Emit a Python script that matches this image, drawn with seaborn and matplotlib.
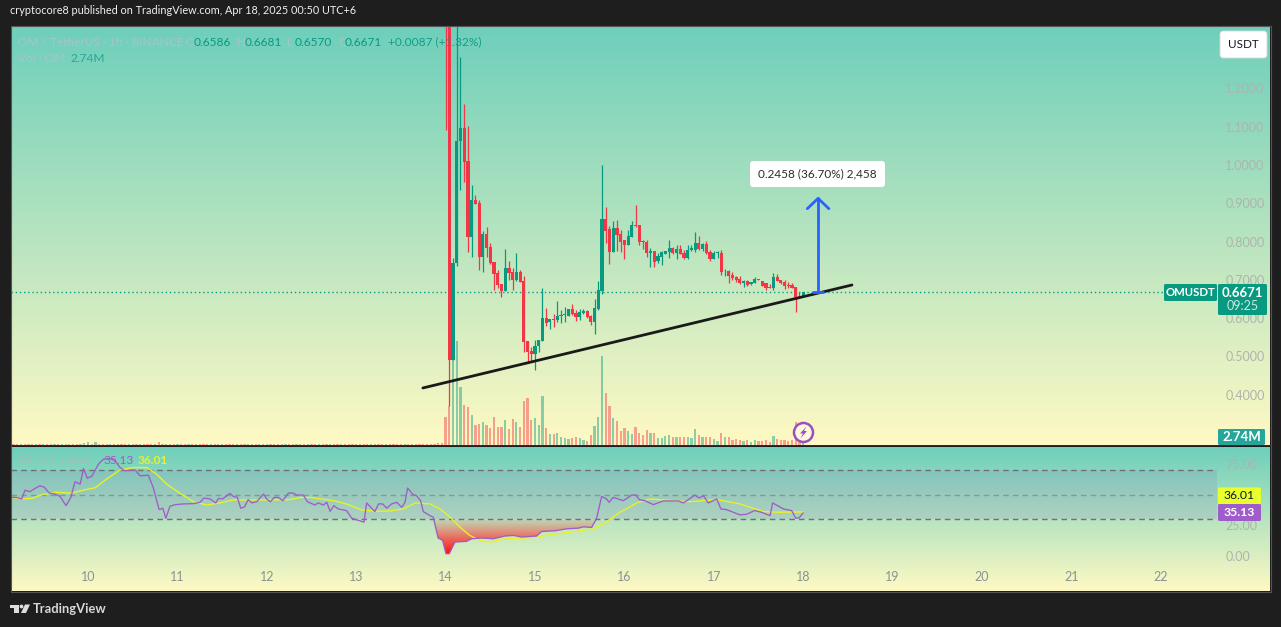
import numpy as np
import pandas as pd
import matplotlib
matplotlib.use("Agg")
import matplotlib.pyplot as plt
import seaborn as sns
from matplotlib.colors import LinearSegmentedColormap
from matplotlib.patches import FancyBboxPatch, Rectangle, Polygon, Circle

# ---------- data ----------
day_labels = ["10", "11", "12", "13", "14", "15", "16", "17", "18", "19", "20", "21", "22"]
price_ticks = [0.4, 0.5, 0.6, 0.7, 0.8, 0.9, 1.0, 1.1, 1.2]
rsi_ticks = [0, 25, 50, 75]

candle_open = [3.20,1.60,.4909,.7433,1.0627,1.0957,1.0105,.8129,.9086,.9,.7607,.82,.786,.746,.7189,.6893,.671,.7311,.7206,.7,
 .7206,.6971,.5405,.5144,.5065,.5274,.5405,.6005,.5892,.5979,.5953,.6066,.6083,.6066,.624,.6136,.6032,.6136,.6188,.6057,
 .5901,.624,.671,.859,.833,.7729,.8355,.82,.8042,.7911,.8129,.8434,.8434,.8025,.799,.7703,.7755,.7503,.7607,.7676,
 .7729,.7833,.7703,.7807,.7703,.7572,.7781,.7781,.7964,.7807,.7938,.7729,.7546,.7703,.7703,.7224,.7233,.7128,.7076,.7024,
 .6919,.6971,.6885,.6919,.7024,.6971,.6919,.6815,.6789,.7076,.7,.6945,.6867,.6867,.6815,.658,.6586]
candle_high = [3.60,1.70,.7563,1.60,1.283,1.1593,1.1018,.9478,.9217,.9086,.8277,.8381,.7972,.7476,.7259,.6893,.7807,.7493,.7302,.7702,
 .7259,.7102,.5405,.5257,.5431,.5431,.6789,.6266,.5979,.611,.645,.6214,.6284,.624,.637,.6214,.624,.624,.6214,.6083,
 .6493,.6971,1.0,.8904,.8407,.8538,.8564,.8303,.8042,.8303,.8547,.8956,.8434,.8042,.8042,.7825,.7755,.7694,.7755,.7755,
 .8042,.785,.7912,.7912,.7781,.7912,.7912,.8251,.8147,.7964,.8016,.7781,.7755,.7755,.7781,.7285,.7259,.7207,.7102,.7102,
 .6998,.6998,.6945,.7076,.7024,.6971,.6919,.6893,.718,.7154,.7,.7,.6945,.6919,.6815,.668,.6681]
candle_low = [1.0914,.3708,.4909,.7363,.935,.9565,.7737,.7607,.898,.7259,.7215,.7589,.7415,.6736,.6797,.6562,.671,.7,.6736,.6971,
 .6954,.5126,.4848,.4848,.4648,.5126,.5405,.5805,.5727,.5779,.5901,.5883,.591,.6066,.6083,.5927,.5953,.611,.6005,.5823,
 .5588,.6214,.6632,.7964,.7415,.7729,.7755,.7729,.7546,.7911,.8129,.8373,.7912,.7816,.7607,.7346,.7346,.745,.7389,.7676,
 .7563,.7676,.7546,.7676,.7546,.7537,.7755,.7729,.7781,.7755,.7676,.7494,.7546,.7563,.7128,.7102,.6919,.6998,.6945,.6893,
 .6824,.684,.6868,.6919,.6998,.684,.6737,.6789,.6737,.6971,.6893,.6763,.6789,.6789,.6162,.6554,.657]
candle_close = [1.60,.4909,.7433,1.0627,1.0957,1.0087,.8129,.9086,.898,.7607,.82,.7842,.7433,.7154,.6867,.671,.7311,.7172,.7,.7206,
 .6954,.5387,.5126,.5065,.5274,.5431,.6005,.5883,.5979,.5962,.6057,.6083,.61,.624,.611,.6032,.6162,.6188,.6032,.5901,
 .6266,.6736,.859,.8277,.7729,.8355,.8173,.799,.7911,.8146,.8434,.8408,.799,.799,.7703,.7755,.7476,.7624,.7729,.7755,
 .7833,.7703,.7807,.7676,.7572,.7781,.7833,.7964,.7807,.7938,.7703,.7546,.7703,.772,.7206,.7241,.7102,.705,.6998,.6919,
 .6971,.6867,.6945,.7024,.7,.684,.6789,.6789,.7076,.6971,.6919,.684,.684,.6789,.6554,.6554,.6671]
candle_vol = [9.6,13.3,29.1,35.6,19.8,13.7,13.0,10.3,6.8,7.2,7.9,6.8,5.8,9.6,6.2,6.2,8.6,5.5,8.9,7.9,
 6.2,15.0,16.1,8.6,9.2,6.8,16.8,5.8,3.8,3.8,4.1,2.7,2.4,2.1,2.4,2.7,2.4,1.7,1.4,3.4,
 6.5,9.6,30.4,17.8,13.3,9.2,8.2,4.8,5.8,4.8,3.8,6.0,4.2,3.4,5.1,4.0,4.0,2.3,2.3,3.1,
 3.4,2.9,2.9,2.6,2.6,2.9,2.3,5.4,3.4,2.6,2.9,2.9,1.9,1.4,4.2,2.6,2.6,1.7,1.9,1.7,
 1.5,1.7,1.1,1.7,1.4,1.5,1.7,1.1,3.2,1.9,1.7,1.7,1.5,1.7,8.0,2.9,2.74]
pre_vol = [.3,.3,.4,.3,.3,.4,.3,.3,.4,.3,.3,.3,.4,.3,.3,.4,.3,.3,.3,.7,.9,.3,.9,.3,.3,.3,.4,.3,.3,.3,.4,.3,.3,.3,.3,.3,.4,.3,.3,1.0,
 .3,.3,.4,.3,.3,.3,.4,.3,.3,.3,.4,.3,.3,.3,.3,.4,.3,.3,.3,.3,.4,.3,.3,.3,.4,.3,.3,.3,.3,.4,.3,.3,.3,.4,.3,.3,.3,.3,.4,.3,
 .3,.3,.3,.4,.3,.3,.3,.4,.3,.3,.3,.3,.4,.3,.3,.3,.4,.3,.3,.3,.3,.4,.3,.3,.3,.3,.4,.3,.3,.3,.3,.4,.3,.3,.7,.7]
pre_dir = list("ddudddududdudududduuududdd" "ududdudduddduddudduddududdd"
               "uddudddudduddududddduddud" "duddudduddudddudddudddudddd" "uddddddddddddddddddddddddd")[:len(pre_vol)]

rsi_hour = [-20.7,-19.2,-17.8,-16.9,-15.6,-14.2,-12.9,-11.8,-10.4,-8.9,-7.5,-5.9,-4.6,-3.5,-2.1,-1.2,-.2,1.0,2.8,4.1,5.9,7.3,8.6,9.9,11.7,12.6,14.0,16.2,17.5,19.1,20.1,20.9,22.0,23.4,25.6,28.3,30.1,31.1,32.8,34.3,35.0,36.1,38.1,39.0,40.1,41.0,42.0,43.0,44.0,45.3,47.1,48.1,49.0,50.0,51.1,52.3,53.8,55.1,56.0,57.8,58.9,60.9,61.8,63.2,64.1,65.0,66.0,67.2,69.4,70.8,74.1,74.8,77.0,78.0,79.1,80.2,81.5,82.9,84.2,85.1,85.8,87.2,88.2,89.3,90.0,91.8,
 92.7,94.0,95.2,96.1,97.0,98.5,101.6,103.0,105.7,108.8,111.9,114.2,116.4,120.4,121.8,125.4,128.5,131.6,133.0,135.2,136.5,137.9,139.2,139.9,141.0,143.7,146.0,147.1,148.0,149.5,151.8,154.4,158.5,159.8,161.2,162.9,164.1,165.2,166.5,168.8,169.9,171.4,175.0,176.8,179.0,180.8,183.1,183.8,186.7,188.9,190.0,190.9,192.0]
rsi_value = [47.8,47.8,46.5,53.7,52.4,55.1,57.2,56.2,51.3,50.5,48.6,41.1,47.8,60.5,58.6,71.2,63.4,64.8,74.7,78.7,79.3,77.4,72.0,69.3,69.9,70.1,65.3,65.8,55.9,37.9,39.0,30.9,40.6,41.9,42.5,42.7,43.8,47.3,46.5,43.3,47.0,46.5,51.1,48.6,47.8,39.0,40.0,46.0,43.3,44.3,50.5,46.0,44.3,47.8,47.8,45.1,51.3,51.3,49.7,49.7,44.3,41.6,43.3,41.6,43.8,36.5,41.1,38.4,37.1,30.9,27.7,43.3,36.3,42.5,42.5,39.0,42.5,43.8,39.8,43.8,55.4,50.2,49.2,45.1,36.3,33.0,
 31.7,14.8,12.9,2.1,2.1,11.5,12.1,14.2,14.8,14.2,16.4,16.9,15.6,16.4,20.1,20.7,22.3,22.8,23.9,23.4,30.4,48.6,46.5,43.8,47.8,45.1,49.7,49.7,46.0,45.1,41.9,44.9,44.9,43.3,46.0,49.7,47.3,49.2,43.3,46.5,38.4,37.9,33.6,34.1,37.1,35.7,33.0,43.3,38.4,37.1,30.9,31.2,35.13]
ma_hour = [-20.7,-17.8,-15.1,-12.0,-8.4,-4.4,-.8,1.9,5.0,8.6,12.2,15.8,18.4,21.1,24.7,28.3,31.9,35.4,39.0,44.4,49.8,54.2,56.9,59.6,65.9,69.4,73.5,77.5,81.1,84.7,87.8,91.8,94.5,97.2,99.9,102.5,105.2,107.9,111.5,118.6,123.1,129.4,135.6,138.3,142.8,147.7,150.9,154.4,161.6,168.8,175.0,181.3,185.8,192.0]
ma_value = [47.8,46.5,47.0,50.3,51.9,51.3,54.0,55.6,62.6,70.1,72.0,72.0,66.7,58.6,51.1,44.3,41.6,43.3,45.7,45.7,45.7,46.0,47.6,47.8,45.1,42.5,37.6,36.5,36.8,38.4,43.3,42.5,38.4,31.7,23.6,16.9,12.9,11.5,14.0,15.0,16.9,19.6,22.3,26.3,35.7,43.8,46.5,45.7,44.3,46.0,42.5,36.3,35.7,36.01]

trend_hour = [89.9, 205.1]
trend_price = [0.4178, 0.6867]
measure_hour = 196
last_price = 0.6671
measure_delta = 0.2458

# ---------- style ----------
W, H = 1281, 627
DARK = "#1e1e1e"
UP, DOWN = "#089981", "#F23645"
sns.set_theme(style="white", rc={"axes.facecolor": "none", "figure.facecolor": DARK, "axes.edgecolor": "none"})
plt.rcParams["font.family"] = ["Lato", "DejaVu Sans"]

fig = plt.figure(figsize=(W / 100, H / 100), dpi=100, facecolor=DARK)


def px_axes(x0, y0, x1, y1, z):
    a = fig.add_axes([x0 / W, 1 - y1 / H, (x1 - x0) / W, (y1 - y0) / H], zorder=z)
    a.patch.set_alpha(0)
    return a


grad = LinearSegmentedColormap.from_list("bg", ["#6ECFBB", "#FFF9C4"])
ramp = np.linspace(0, 1, 256)[:, None]
for (y0, y1) in [(26, 445), (447, 591)]:
    bg = px_axes(11, y0, 1270, y1, 0)
    bg.imshow(ramp, aspect="auto", cmap=grad)
    bg.axis("off")

XLIM = (-20.67, 303.09)
PLIM = (0.2689, 1.3629)
RLIM = (-28.2, 88.7)

# ---------- volume ----------
candle_dir = ["u" if c >= o else "d" for o, c in zip(candle_open, candle_close)]
vol_df = pd.DataFrame({
    "hour": np.arange(96 - len(pre_vol), 96 + len(candle_vol)),
    "vol": pre_vol + candle_vol,
    "dir": pre_dir + candle_dir,
})
ax_vol = px_axes(11, 26, 1217, 445, 1)
sns.barplot(data=vol_df, x="hour", y="vol", hue="dir", hue_order=["u", "d"],
            palette={"u": UP, "d": DOWN}, native_scale=True, dodge=False,
            width=0.6, saturation=1, alpha=0.45, legend=False, ax=ax_vol, linewidth=0)
ax_vol.set_xlim(*XLIM)
ax_vol.set_ylim(0, 143.5)
ax_vol.axis("off")

# ---------- candles ----------
ax = px_axes(11, 26, 1217, 445, 2)
hours = np.arange(96, 96 + len(candle_open))
o, hi, lo, c = map(np.array, (candle_open, candle_high, candle_low, candle_close))
colors = np.where(c >= o, UP, DOWN)
ax.vlines(hours, lo, hi, colors=colors, lw=0.9, zorder=3)
ax.bar(hours, np.abs(c - o), bottom=np.minimum(o, c), width=0.85, color=colors, linewidth=0, zorder=4)
ax.hlines(last_price, XLIM[0], 289, colors=UP, lw=1, linestyles=(0, (1, 2)), zorder=2)
sns.lineplot(x=trend_hour, y=trend_price, color="#1a1a1a", lw=2, ax=ax, zorder=5, errorbar=None)
ax.set_xlim(*XLIM)
ax.set_ylim(*PLIM)
ax.set_yticks(price_ticks, [f"{p:.4f}" for p in price_ticks])
ax.yaxis.tick_right()
ax.tick_params(axis="y", length=0, pad=6, labelsize=9, labelcolor="#aeb4ae")
ax.set_xticks([])

# measure arrow
blue = "#2962FF"
top = last_price + measure_delta
ax.plot([measure_hour, measure_hour], [last_price, top], color=blue, lw=2, zorder=6)
ax.plot([measure_hour - 2.9, measure_hour, measure_hour + 2.9], [top - 0.027, top, top - 0.027], color=blue, lw=2, zorder=6)
ax.plot([measure_hour - 1.3, measure_hour + 1.3], [last_price, last_price], color=blue, lw=2, zorder=6)

# ---------- RSI ----------
ax_r = px_axes(11, 447, 1217, 591, 2)
ax_r.axhspan(30, 70, color="#7E57C2", alpha=0.13, lw=0)
for lvl, al in [(70, 1.0), (50, 0.55), (30, 1.0)]:
    ax_r.axhline(lvl, color="#6f7078", lw=1, ls=(0, (4, 3)), alpha=al)
h_arr, r_arr = np.array(rsi_hour), np.array(rsi_value)

low_fill = ax_r.fill_between(h_arr, r_arr, 30, where=r_arr <= 30, interpolate=True, facecolor="none", lw=0)
cm_red = LinearSegmentedColormap.from_list("r", [(1, 0, 0, 1), (1, 0.1, 0.1, 0.6), (1, 0.2, 0.2, 0.08)])
im = ax_r.imshow(np.linspace(0, 1, 64)[:, None], cmap=cm_red, aspect="auto", origin="lower",
                 extent=[90, 140, 0, 30], zorder=1)
im.set_clip_path(low_fill.get_paths()[-1], transform=low_fill.get_transform())

sns.lineplot(x=ma_hour, y=ma_value, color="#E8F227", lw=1.0, ax=ax_r, errorbar=None, sort=False, zorder=3)
sns.lineplot(x=rsi_hour, y=rsi_value, color="#A05CC8", lw=0.95, ax=ax_r, errorbar=None, sort=False, zorder=4)
ax_r.set_xlim(*XLIM)
ax_r.set_ylim(*RLIM)
ax_r.set_yticks(rsi_ticks, [f"{v:.2f}" for v in rsi_ticks])
ax_r.yaxis.tick_right()
ax_r.tick_params(axis="y", length=0, pad=6, labelsize=9, labelcolor="#aeb4ae")
ax_r.set_xticks(np.arange(0, 24 * len(day_labels), 24), day_labels)
ax_r.tick_params(axis="x", length=0, pad=-14.5, labelsize=9, labelcolor="#8a9490")

# ---------- overlay (labels and chrome, in pixels) ----------
ov = px_axes(0, 0, W, H, 5)
ov.set_xlim(0, W)
ov.set_ylim(H, 0)
ov.axis("off")


def box(x0, y0, x1, y1, color, r=1.5, ec="none"):
    ov.add_patch(FancyBboxPatch((x0 + r, y0 + r), x1 - x0 - 2 * r, y1 - y0 - 2 * r,
                                boxstyle=f"round,pad={r},rounding_size={r}", fc=color, ec=ec, lw=0.6))


def txt(x, y, s, color, size=8.6, **kw):
    kw.setdefault("va", "center")
    kw.setdefault("ha", "left")
    ov.text(x, y, s, color=color, fontsize=size, **kw)


ov.add_patch(Rectangle((10.5, 25.5), 1260, 566, fc="none", ec="#555555", lw=0.8))
ov.add_patch(Rectangle((10.5, 444.5), 1260, 1.6, fc="#2a2e33", ec="none"))

txt(10, 11, "cryptocore8 published on TradingView.com, Apr 18, 2025 00:50 UTC+6", "#f0f0f0", 7.8)

faint = "#a9c4c6"
txt(18, 42, "OM / TetherUS · 1h · BINANCE", faint)
for x, lab, xv, val in [(186, "O", 194, "0.6586"), (237, "H", 245, "0.6681"),
                        (287, "L", 295, "0.6570"), (338, "C", 345, "0.6671")]:
    txt(x, 42, lab, faint)
    txt(xv, 42, val, UP)
txt(388, 42, "+0.0087 (+1.32%)", UP, alpha=0.9)
txt(18, 58.5, "Vol · OM", faint)
txt(70, 58.5, "2.74M", "#26A69A")
txt(18, 460, "RSI (14, close)", "#a6bcc0")
txt(103, 460, "35.13", "#A05CC8")
txt(138, 460, "36.01", "#E8F227", fontweight="bold")

box(1220, 31, 1267, 58, "white", r=3, ec="#d8d8d8")
txt(1243.5, 44.5, "USDT", "#131722", 8.4, ha="center")

box(750, 161, 885, 187, "white", r=3)
txt(817.5, 174, "0.2458 (36.70%) 2,458", "#2b2b2b", 8.5, ha="center")

box(1164, 284, 1217, 301, UP)
txt(1190.5, 292.5, "OMUSDT", "white", 8.2, ha="center", fontweight="bold")
box(1218, 284, 1267, 315, UP)
txt(1242.5, 293, "0.6671", "white", 9.5, ha="center", fontweight="bold")
txt(1242.5, 306, "09:25", "#cfe8e2", 9, ha="center")

box(1218, 429, 1265, 445, "#26A69A")
txt(1241.5, 437, "2.74M", "white", 9.5, ha="center", fontweight="bold")
box(1218, 487.5, 1261, 504, "#E8FF2E")
txt(1239.5, 495.8, "36.01", "#131722", 8.8, ha="center")
box(1218, 504, 1261, 521, "#A05CC8")
txt(1239.5, 512.5, "35.13", "white", 8.8, ha="center", fontweight="bold")

# alert badge
bx, by = 803.5, 432.5
ov.add_patch(Circle((bx, by), 9.5, fc="#fff8dc", ec="#9C4FC4", lw=1.8))
ov.add_patch(Polygon([(bx + 3, by - 6), (bx - 3.5, by + 1), (bx - 0.5, by + 1), (bx - 3, by + 6),
                      (bx + 3.5, by - 1.5), (bx + 0.5, by - 1.5)], fc="#9C4FC4", ec="none"))

# TradingView mark
logo = "#dddddd"
ov.add_patch(Polygon([(10, 604.5), (19, 604.5), (19, 613), (14.3, 613), (14.3, 608), (10, 608)], fc=logo, ec="none"))
ov.add_patch(Circle((21.5, 606.5), 1.9, fc=logo, ec="none"))
ov.add_patch(Polygon([(25, 604.5), (30, 604.5), (26, 613), (21, 613)], fc=logo, ec="none"))
txt(33, 609, "TradingView", "#d8d8d8", 9.3, fontweight="bold")

fig.savefig("out.png", dpi=100, facecolor=DARK)
